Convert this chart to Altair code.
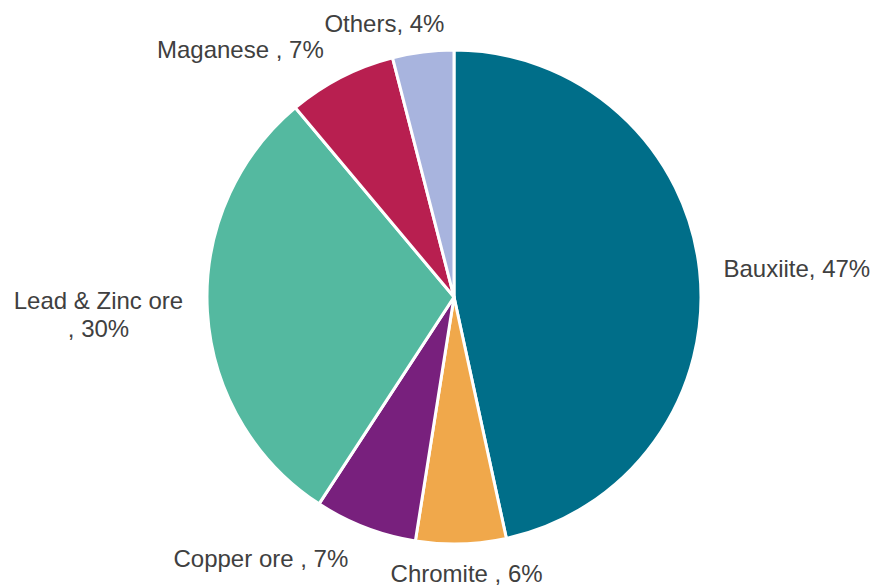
import altair as alt
import pandas as pd

minerals = ["Bauxiite", "Chromite", "Copper ore", "Lead & Zinc ore", "Maganese", "Others"]
shares = [46.6, 5.9, 6.7, 29.7, 7.1, 4.0]
labels = ["Bauxiite, 47%", "Chromite , 6%", "Copper ore , 7%", "Lead & Zinc ore\n, 30%", "Maganese , 7%", "Others, 4%"]
colors = ["#006E89", "#F0A84B", "#78207D", "#54B9A0", "#B81F50", "#A8B4DE"]

df = pd.DataFrame({"idx": list(range(len(minerals))), "mineral": minerals, "share": shares, "label": labels})

theta_scale = alt.Scale(domain=[0, 1], range=[0, 6.283185307179586])

base = (
    alt.Chart(df)
    .transform_joinaggregate(total="sum(share)")
    .transform_window(cum="sum(share)", sort=[alt.SortField("idx")], frame=[None, 0])
    .transform_calculate(
        start="(datum.cum - datum.share) / datum.total",
        end="datum.cum / datum.total",
        mid="(datum.cum - datum.share / 2) / datum.total",
        deg="360 * (datum.cum - datum.share / 2) / datum.total",
    )
)

arcs = base.mark_arc(outerRadius=247, stroke="white", strokeWidth=3).encode(
    theta=alt.Theta("start:Q", scale=theta_scale),
    theta2="end:Q",
    color=alt.Color("mineral:N", scale=alt.Scale(domain=minerals, range=colors), legend=None),
)

txt = dict(font="Liberation Sans", fontSize=24, color="#404040", lineBreak="\n", lineHeight=28)


def label_layer(cond, radius, align, baseline, dx=0, dy=0):
    return base.transform_filter(cond).mark_text(
        radius=radius, align=align, baseline=baseline, dx=dx, dy=dy, **txt
    ).encode(theta=alt.Theta("mid:Q", scale=theta_scale), text="label:N")


layers = [
    arcs,
    label_layer("datum.deg >= 20 && datum.deg < 160", 272, "left", "middle", dx=-1, dy=2),
    label_layer("datum.deg >= 160 && datum.deg < 195", 268, "center", "top", dx=5, dy=-2),
    label_layer("datum.deg >= 195 && datum.deg < 250", 272, "right", "top", dx=-8, dy=-3),
    label_layer("datum.deg >= 250 && datum.deg < 290", 272, "center", "middle", dx=-84, dy=-11),
    label_layer("datum.deg >= 290 && datum.deg < 345", 272, "right", "bottom", dx=-6, dy=8),
    label_layer("datum.deg >= 345 || datum.deg < 20", 268, "center", "bottom", dx=-36, dy=6),
]

chart = (
    alt.layer(*layers)
    .properties(width=838, height=580, autosize="none",
                padding={"left": 35, "top": 7, "right": 0, "bottom": 0})
    .configure_view(stroke=None)
)

chart.save("out.html", embed_options={"renderer": "svg", "actions": False})
